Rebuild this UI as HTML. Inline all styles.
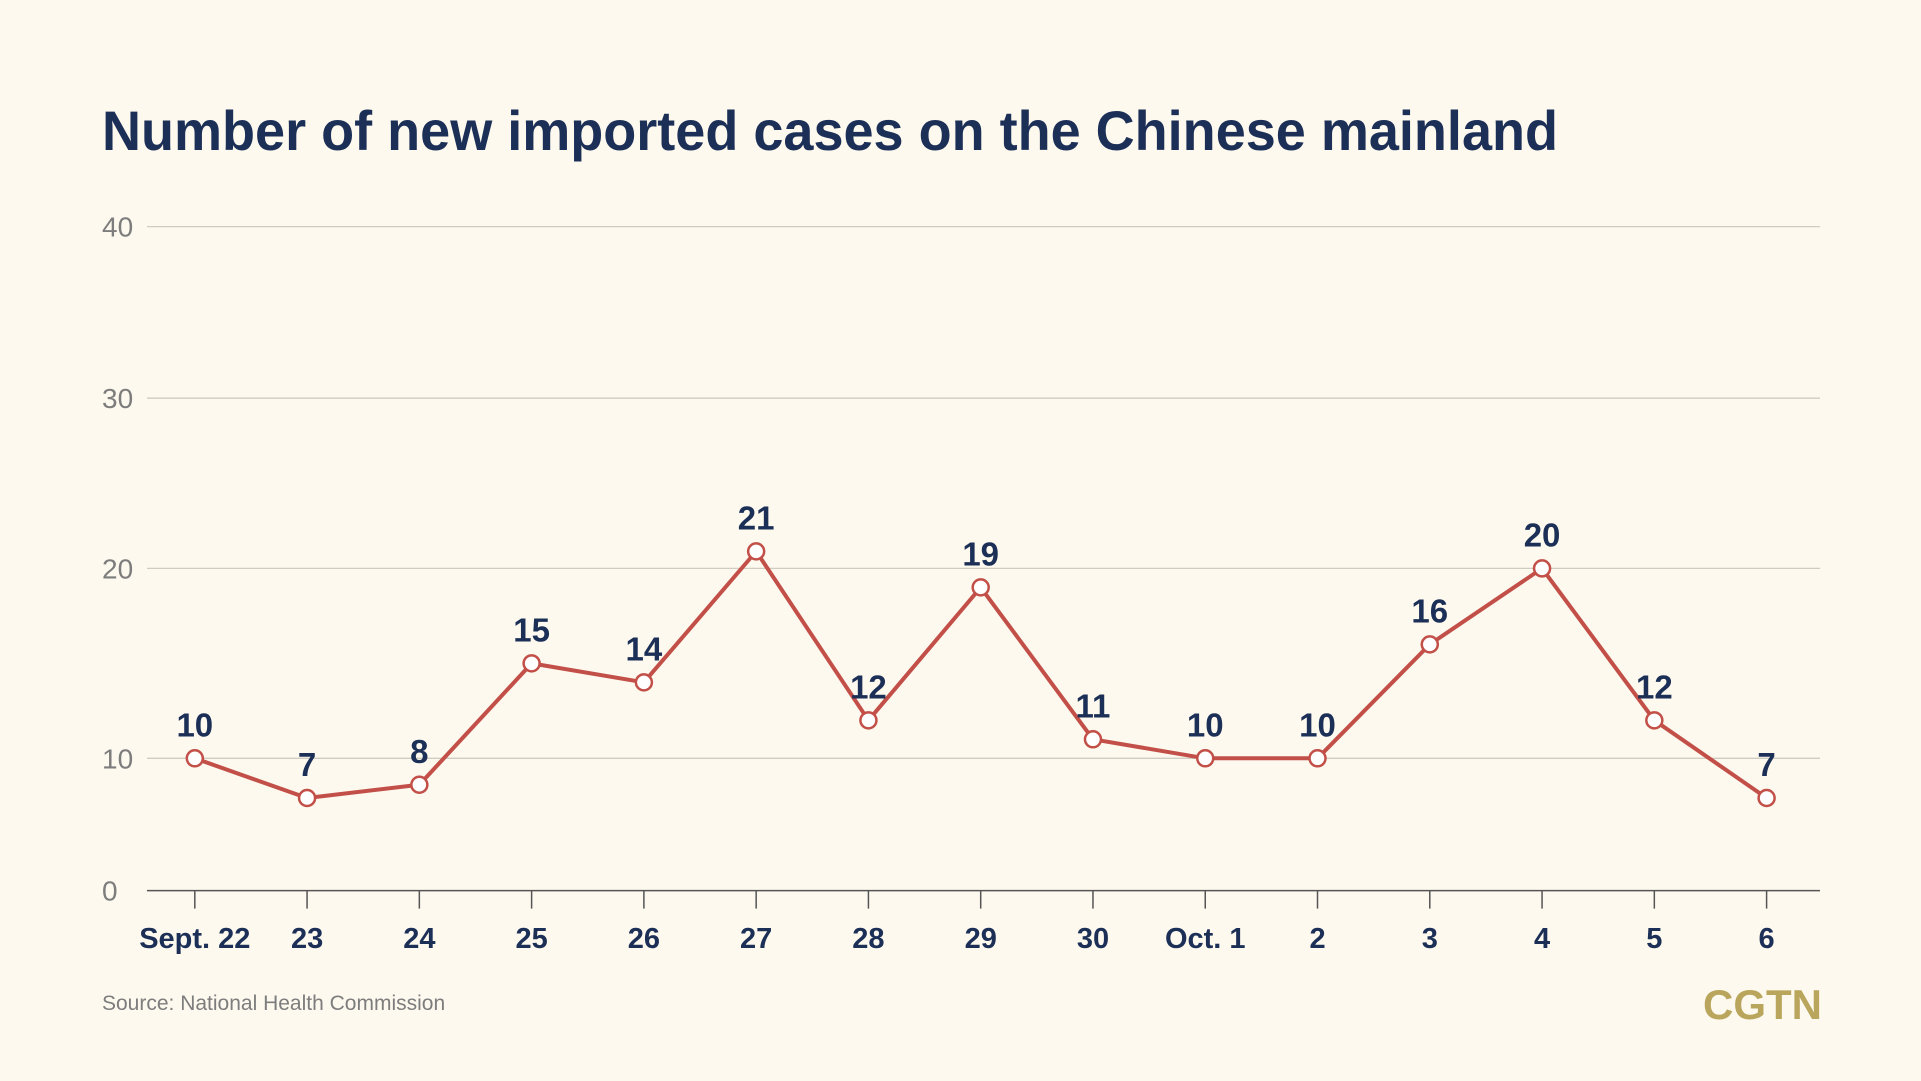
<!DOCTYPE html>
<html><head><meta charset="utf-8"><style>
html,body{margin:0;padding:0;background:#fdf9ee;}
svg{display:block;font-family:"Liberation Sans",sans-serif;}
</style></head><body>
<svg id="chart" width="1921" height="1081" viewBox="0 0 1921 1081">
<rect width="1921" height="1081" fill="#fdf9ee"/>
<text x="102" y="150" font-size="56" font-weight="bold" fill="#1c2f57" textLength="1456" lengthAdjust="spacingAndGlyphs">Number of new imported cases on the Chinese mainland</text>
<g id="grid"></g><g id="axis"></g><g id="series"></g>
<text x="102" y="1010" font-size="21" fill="#7d7d7d">Source: National Health Commission</text>
<text x="1822" y="1019" font-size="42" font-weight="bold" fill="#b9a55c" text-anchor="end">CGTN</text>
</svg>
<script>
const categories=["Sept. 22","23","24","25","26","27","28","29","30","Oct. 1","2","3","4","5","6"];
const values=[10,7,8,15,14,21,12,19,11,10,10,16,20,12,7];
const yTicks=[0,10,20,30,40];
const yTickPx=[890.6,758.3,568.4,398.2,226.6];
const NS="http://www.w3.org/2000/svg";
function y(v){for(let i=0;i<yTicks.length-1;i++){if(v<=yTicks[i+1]||i===yTicks.length-2){const t=(v-yTicks[i])/(yTicks[i+1]-yTicks[i]);return yTickPx[i]+t*(yTickPx[i+1]-yTickPx[i]);}}}
function x(i){return 194.8+i*(1766.6-194.8)/(categories.length-1);}
function el(tag,attrs,parent){const e=document.createElementNS(NS,tag);for(const k in attrs)e.setAttribute(k,attrs[k]);parent.appendChild(e);return e;}
const grid=document.getElementById('grid'),axis=document.getElementById('axis'),series=document.getElementById('series');
yTicks.forEach((t,i)=>{
  if(t>0){const l=el('line',{x1:147,x2:1820,y1:y(t),y2:y(t),stroke:'#cfccc2','stroke-width':1.3},grid);
  
  }
  const tx=el('text',{x:102,y:y(t)+10,'font-size':28,fill:'#7d7d7d'},grid);
  tx.textContent=t;
  
  
});
const ax=el('line',{x1:147,x2:1820,y1:y(0),y2:y(0),stroke:'#555','stroke-width':1.5},axis);


categories.forEach((c,i)=>{
  const tk=el('line',{x1:x(i),x2:x(i),y1:y(0),y2:y(0)+18,stroke:'#555','stroke-width':1.5},axis);
  
  
  const tx=el('text',{x:x(i),y:948,'font-size':29,'font-weight':'bold',fill:'#1c2f57','text-anchor':'middle'},axis);
  tx.textContent=c;
  
  
});
const pts=values.map((v,i)=>x(i)+','+y(v)).join(' ');
const pl=el('polyline',{points:pts,fill:'none',stroke:'#c24f48','stroke-width':4,'stroke-linejoin':'round'},series);


values.forEach((v,i)=>{
  const c=el('circle',{cx:x(i),cy:y(v),r:8,fill:'#fff',stroke:'#c24f48','stroke-width':2.5},series);
  
  
  const t=el('text',{x:x(i),y:y(v)-22,'font-size':33,'font-weight':'bold',fill:'#1c2f57','text-anchor':'middle'},series);
  t.textContent=v;
  
  
});
</script>
</body></html>
